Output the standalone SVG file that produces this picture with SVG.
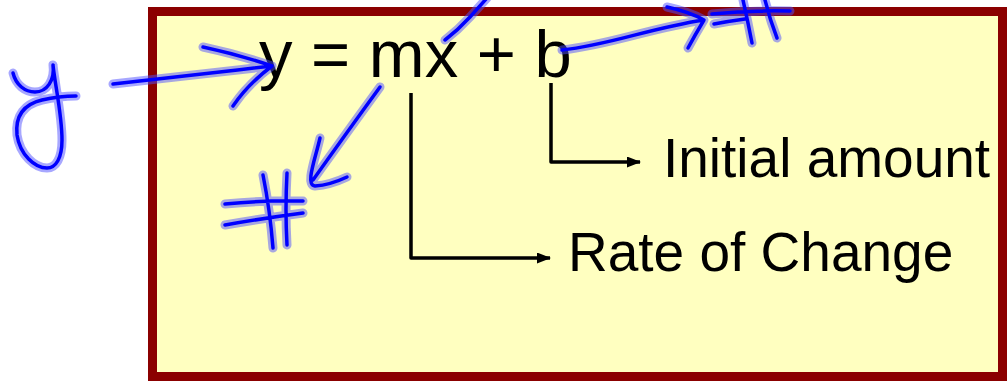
<svg xmlns="http://www.w3.org/2000/svg" width="1007" height="381" viewBox="0 0 1007 381">
<style>
.t{font-family:"Liberation Sans",Arial,sans-serif;fill:#000}
.conn{fill:none;stroke:#000;stroke-width:3.5;stroke-linejoin:round}
.halo{fill:none;stroke:#5050ff;stroke-opacity:0.5;stroke-width:9;stroke-linecap:round;stroke-linejoin:round}
.ink{fill:none;stroke:#0000ff;stroke-width:3.5;stroke-linecap:round;stroke-linejoin:round}
</style>
<defs>
<marker id="ah" markerUnits="userSpaceOnUse" markerWidth="14" markerHeight="12" refX="13" refY="5.5" orient="auto">
<path d="M0,0 L14,5.5 L0,11 z" fill="#000"/>
</marker>
<g id="inkpaths">
<path id="p-y" d="M13,73 C16,85 25,92 35,92 C47,92 55,80 53,65 C55,85 62,115 62,140 C62,158 56,168 47,168 C35,168 20,155 17,135 C15,115 25,104 42,100 C55,97 65,96 76,96"/>
<path id="p-a1" d="M113,84 C170,78 220,72 272,66 M203,47 Q240,55 272,66 Q248,84 233,106"/>
<path id="p-a2" d="M380,87 Q345,135 313,180 M320,138 C315,160 305,185 315,186 Q330,185 347,177"/>
<path id="p-h1" d="M225,204 Q265,200 303,201 M225,225 Q265,218 303,213 M263,175 Q270,210 273,248 M287,173 Q285,210 287,245"/>
<path id="p-s" d="M445,40 Q458,30 470,17 L487,-2"/>
<path id="p-a3" d="M562,50 C610,45 650,28 704,20 M667,7 Q690,12 704,20 Q695,35 688,48"/>
<path id="p-h2" d="M712,14 Q750,10 790,11 M714,24 Q730,21 745,19 M743,0 Q748,22 752,43 M765,0 Q770,20 777,38"/>
</g>
</defs>
<g id="box">
<rect x="152.5" y="11.5" width="850" height="365" fill="#ffffc0" stroke="#8b0000" stroke-width="9"/>
</g>
<g id="equation">
<text class="t" x="259" y="77" font-size="67">y = mx + b</text>
</g>
<g id="initial">
<text class="t" x="663" y="177" font-size="55">Initial amount</text>
</g>
<g id="rate">
<text class="t" x="568" y="271" font-size="55">Rate of Change</text>
</g>
<g id="connectors">
<path class="conn" d="M551,83 L551,162 L640,162" marker-end="url(#ah)"/>
<path class="conn" d="M411,93 L411,258 L550,258" marker-end="url(#ah)"/>
</g>
<g id="ink">
<use href="#inkpaths" class="halo"/>
<use href="#inkpaths" class="ink"/>
</g>
</svg>
